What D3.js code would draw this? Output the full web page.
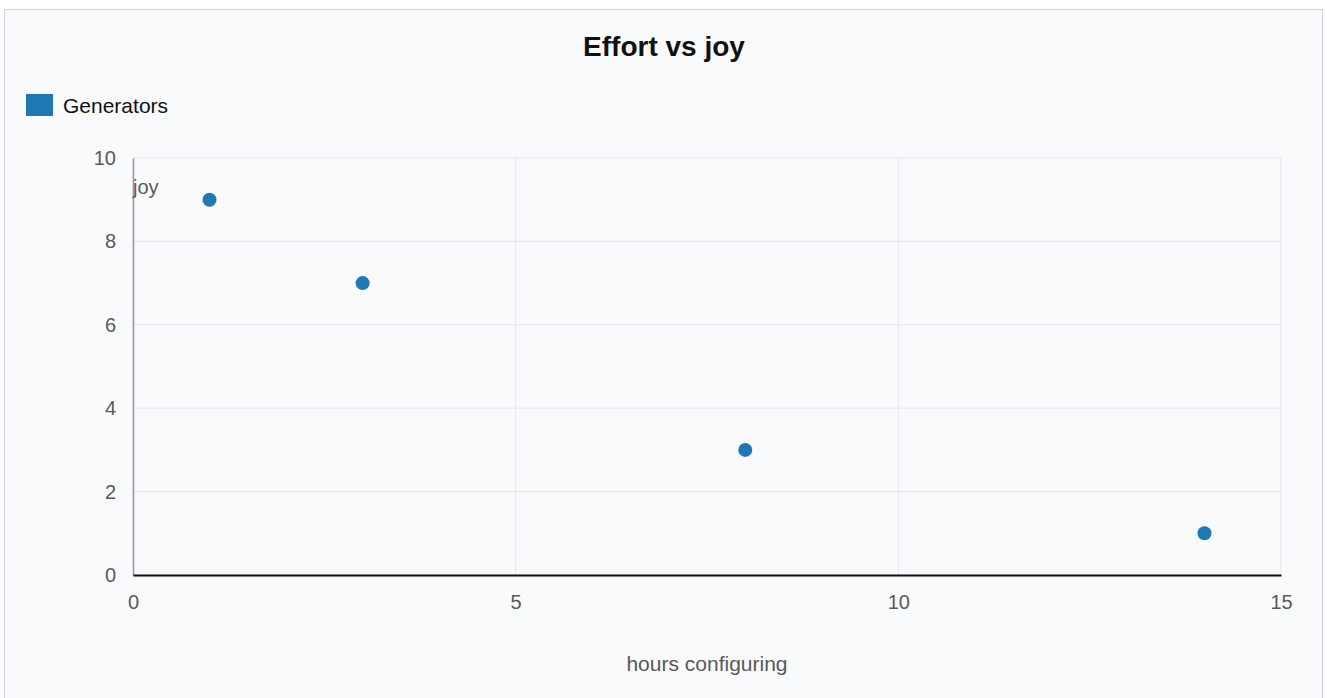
<!DOCTYPE html>
<html>
<head>
<meta charset="utf-8">
<script src="https://cdn.jsdelivr.net/npm/d3@7"></script>
<style>
  body { margin: 0; background: #ffffff; font-family: "Liberation Sans", Arial, sans-serif; }
  #chart { position: absolute; left: 4px; top: 9px; width: 1319px; height: 700px;
           border: 1px solid #cdd3dc; background: #f8fafc; box-sizing: border-box; }
</style>
</head>
<body>
<div id="chart"></div>
<script>
// data
var seriesName = 'Generators';
var hours = [1, 3, 8, 14];
var joy = [9, 7, 3, 1];
var xTicks = [0, 5, 10, 15];
var yTicks = [0, 2, 4, 6, 8, 10];

var svgWidth = 1327;
var svgHeight = 698;

var margin = { top: 158, right: 46, bottom: 123, left: 133 };
var width = svgWidth - margin.left - margin.right;
var height = svgHeight - margin.top - margin.bottom;

var svg = d3.select('body').append('svg')
  .attr('width', svgWidth)
  .attr('height', svgHeight)
  .style('position', 'absolute')
  .style('left', 0)
  .style('top', 0)
  .attr('font-family', 'Liberation Sans, Arial, sans-serif');

var chartGroup = svg.append('g')
  .attr('transform', `translate(${margin.left}, ${margin.top})`);

var x = d3.scaleLinear().domain([0, 15]).range([0, width]);
var y = d3.scaleLinear().domain([0, 10]).range([height, 0]);

// gridlines
chartGroup.append('g')
  .selectAll('line')
  .data(yTicks)
  .enter()
  .append('line')
  .attr('x1', 0).attr('x2', width)
  .attr('y1', d => y(d)).attr('y2', d => y(d))
  .attr('stroke', '#e3e6ea');

chartGroup.append('g')
  .selectAll('line')
  .data(xTicks)
  .enter()
  .append('line')
  .attr('y1', 0).attr('y2', height)
  .attr('x1', d => x(d)).attr('x2', d => x(d))
  .attr('stroke', '#e3e6ea');

// axes
var yAxis = chartGroup.append('g')
  .call(d3.axisLeft(y).tickValues(yTicks).tickSize(0).tickPadding(17));
yAxis.attr('font-size', null).attr('font-family', null);
yAxis.select('.domain').attr('stroke', '#999999').attr('stroke-width', 1.5);
yAxis.selectAll('text').attr('font-size', '20px').attr('fill', '#595959');

var xAxis = chartGroup.append('g')
  .attr('transform', `translate(0, ${height})`)
  .call(d3.axisBottom(x).tickValues(xTicks).tickSize(0).tickPadding(20));
xAxis.attr('font-size', null).attr('font-family', null);
xAxis.select('.domain').attr('stroke', '#111111').attr('stroke-width', 2);
xAxis.selectAll('text').attr('font-size', '20px').attr('fill', '#595959');

// points
chartGroup.selectAll('circle')
  .data(hours)
  .enter()
  .append('circle')
  .attr('cx', (d, i) => x(d))
  .attr('cy', (d, i) => y(joy[i]))
  .attr('r', 7)
  .attr('fill', '#1f77b4');

// axis titles
chartGroup.append('text')
  .attr('x', 0)
  .attr('y', 36)
  .attr('font-size', '20px')
  .attr('fill', '#595959')
  .text('joy');

svg.append('text')
  .attr('x', margin.left + width / 2)
  .attr('y', 671)
  .attr('text-anchor', 'middle')
  .attr('font-size', '21px')
  .attr('fill', '#595959')
  .text('hours configuring');

// title
svg.append('text')
  .attr('x', 664)
  .attr('y', 56)
  .attr('text-anchor', 'middle')
  .attr('font-size', '28px')
  .attr('font-weight', 'bold')
  .attr('fill', '#111111')
  .text('Effort vs joy');

// legend
svg.append('rect')
  .attr('x', 26).attr('y', 94)
  .attr('width', 27).attr('height', 22)
  .attr('fill', '#1f77b4');

svg.append('text')
  .attr('x', 63).attr('y', 113)
  .attr('font-size', '21px')
  .attr('fill', '#111111')
  .text(seriesName);
</script>
</body>
</html>
